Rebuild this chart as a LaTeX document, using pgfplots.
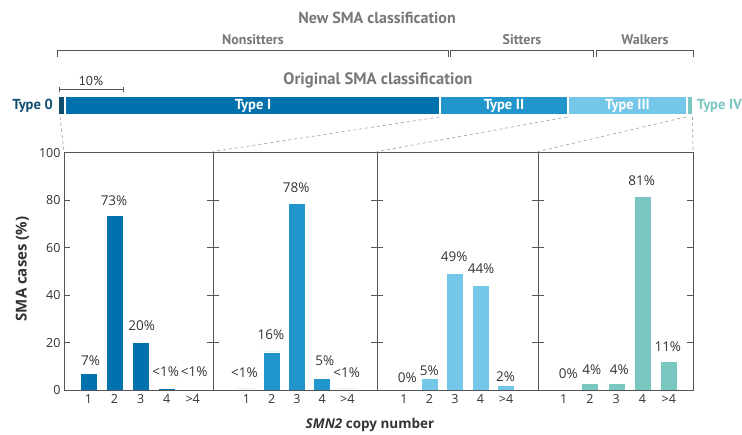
\documentclass[border=0pt]{standalone}
\usepackage{pgfplots}
\pgfplotsset{compat=1.18}
\usepackage{fontspec}
\setmainfont{Open Sans}
\newfontfamily\headfont{PT Sans}
\definecolor{typeZ}{HTML}{0E4C70}
\definecolor{typeI}{HTML}{0071AC}
\definecolor{typeII}{HTML}{2196CC}
\definecolor{typeIII}{HTML}{74C7E8}
\definecolor{typeIV}{HTML}{7AC6C0}
\definecolor{headgray}{HTML}{77787B}
\definecolor{textdark}{HTML}{333333}
\definecolor{axisgray}{HTML}{555555}
\definecolor{dashgray}{HTML}{9A9A9A}
\pgfplotsset{smapanel/.style={
  anchor=south west, scale only axis, height=237.3pt,
  ymin=0, ymax=100, ytick={0,20,40,60,80,100},
  xtick={1,2,3,4,5}, xticklabels={1,2,3,4,>4},
  tick align=inside, ytick pos=both, xtick pos=bottom,
  major tick length=6pt,
  xtick style={draw=none},
  ytick style={draw=axisgray, line width=0.9pt},
  axis line style={draw=axisgray, line width=0.9pt},
  axis on top, clip=false,
  ticklabel style={font=\fontsize{12.5}{14}\selectfont, text=textdark},
  xticklabel style={yshift=-1pt},
  /pgf/number format/assume math mode=true,
},
barlab/.style={draw=none, mark=none, nodes near coords, point meta=explicit symbolic,
  every node near coord/.append style={anchor=center, inner sep=0pt, font=\fontsize{13.5}{15}\selectfont, text=textdark}},
bars/.style={ybar, bar width=17pt, fill=#1, draw=white, line width=0.5pt}
}
\begin{document}
\begin{tikzpicture}
\useasboundingbox (0,0) rectangle (742pt,435pt);
% Panel 1: Type I
\begin{axis}[smapanel, at={(64pt,45pt)}, width=149pt, xmin=0.058, xmax=5.78]
\addplot[bars=typeI] coordinates {(1,7) (2,73.5) (3,20) (4,0.6) (5,0.4)};
\addplot[barlab] table[x=x, y=y, meta=lab] {
x y lab
1.08 12.3 7\%
1.98 79.6 73\%
3.04 27.0 20\%
3.96 7.7 <1\%
5.06 7.7 <1\%
};
\end{axis}
% Panel 2: Type II
\begin{axis}[smapanel, at={(213pt,45pt)}, width=164pt, xmin=-0.323, xmax=6.174, yticklabels={}]
\addplot[bars=typeII] coordinates {(1,0.5) (2,16.1) (3,78.5) (4,4.9) (5,0.5)};
\addplot[barlab] table[x=x, y=y, meta=lab] {
x y lab
0.92 7.4 <1\%
1.97 23.2 16\%
2.97 85.3 78\%
4.11 12.3 5\%
4.97 7.4 <1\%
};
\end{axis}
% Panel 3: Type III
\begin{axis}[smapanel, at={(377pt,45pt)}, width=161pt, xmin=-0.049, xmax=6.247, yticklabels={}]
\addplot[bars=typeIII] coordinates {(2,4.9) (3,49.2) (4,44.2) (5,1.8)};
\addplot[barlab] table[x=x, y=y, meta=lab] {
x y lab
1.14 5.2 0\%
2.0 8.0 5\%
2.97 56.2 49\%
4.02 51.3 44\%
4.98 5.6 2\%
};
\end{axis}
% Panel 4: Type IV
\begin{axis}[smapanel, at={(538pt,45pt)}, width=155pt, xmin=0.025, xmax=5.918, yticklabels={}]
\addplot[bars=typeIV] coordinates {(2,2.8) (3,2.8) (4,81.5) (5,12.2)};
\addplot[barlab] table[x=x, y=y, meta=lab] {
x y lab
1.18 7.0 0\%
2.07 8.7 4\%
3.12 8.7 4\%
3.97 88.2 81\%
4.96 18.3 11\%
};
\end{axis}
\begin{scope}[x=1pt,y=1pt]
% axis titles
\node[rotate=90, text=textdark, font=\bfseries\fontsize{15}{17}\selectfont] at (22.5,166) {SMA cases (\%)};
\node[text=textdark, font=\bfseries\fontsize{13.5}{15}\selectfont] at (370,10) {\textit{SMN2} copy number};
% headings
\node[text=headgray, font=\headfont\bfseries\fontsize{16}{18}\selectfont] at (377,417) {New SMA classification};
\node[text=headgray, font=\headfont\bfseries\fontsize{14}{16}\selectfont] at (253,395.5) {Nonsitters};
\node[text=headgray, font=\headfont\bfseries\fontsize{14}{16}\selectfont] at (522,395.5) {Sitters};
\node[text=headgray, font=\headfont\bfseries\fontsize{14}{16}\selectfont] at (645,395.5) {Walkers};
\draw[axisgray, line width=0.8pt] (57.7,378) -- (57.7,384.5) -- (448.6,384.5) -- (448.6,378);
\draw[axisgray, line width=0.8pt] (450.5,378) -- (450.5,384.5) -- (593,384.5) -- (593,378);
\draw[axisgray, line width=0.8pt] (596,378) -- (596,384.5) -- (693.3,384.5) -- (693.3,378);
\node[text=headgray, font=\headfont\bfseries\fontsize{16.6}{18}\selectfont] at (378,355) {Original SMA classification};
% 10% scale
\node[text=textdark, font=\headfont\fontsize{13}{15}\selectfont] at (91,354) {10\%};
\draw[axisgray, line width=0.8pt] (59,342.5) -- (59,348) (59,345.3) -- (123,345.3) (123,342.5) -- (123,348);
% classification bar
\fill[typeZ] (59,320.7) rectangle (64,338.3);
\fill[typeI] (65.5,320.7) rectangle (439.3,338.3);
\fill[typeII] (441,320.7) rectangle (567.3,338.3);
\fill[typeIII] (569,320.7) rectangle (685.7,338.3);
\fill[typeIV] (688.3,320.7) rectangle (692.3,338.3);
\node[text=white, font=\headfont\bfseries\fontsize{14.5}{16}\selectfont] at (253,329.5) {Type I};
\node[text=white, font=\headfont\bfseries\fontsize{14.5}{16}\selectfont] at (504,329.5) {Type II};
\node[text=white, font=\headfont\bfseries\fontsize{14.5}{16}\selectfont] at (627.5,329.5) {Type III};
\node[anchor=east, inner sep=0pt, text=typeZ, font=\headfont\bfseries\fontsize{14.5}{16}\selectfont] at (53,329.5) {Type 0};
\node[anchor=west, inner sep=0pt, text=typeIV, font=\headfont\bfseries\fontsize{14.5}{16}\selectfont] at (696.7,329.5) {Type IV};
% dashed connectors
\draw[dashgray, line width=0.6pt, dash pattern=on 3pt off 3pt] (60,318) -- (64,283.5);
\draw[dashgray, line width=0.6pt, dash pattern=on 3pt off 3pt] (439.3,318) -- (213,283.5);
\draw[dashgray, line width=0.6pt, dash pattern=on 3pt off 3pt] (567.3,318) -- (377,283.5);
\draw[dashgray, line width=0.6pt, dash pattern=on 3pt off 3pt] (686,318) -- (538,283.5);
\draw[dashgray, line width=0.6pt, dash pattern=on 3pt off 3pt] (692.5,318) -- (693,283.5);
\end{scope}
\end{tikzpicture}
\end{document}
